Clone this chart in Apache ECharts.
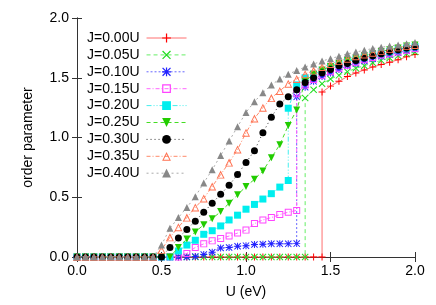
<!DOCTYPE html>
<html>
<head>
<meta charset="utf-8">
<script src="https://cdn.jsdelivr.net/npm/echarts@6/dist/echarts.min.js"></script>
<style>html,body{margin:0;padding:0;background:#fff}#c{width:436px;height:305px}</style>
</head>
<body>
<div id="c"></div>
<script>
// U grid (eV)
const uGrid = [0,0.05,0.1,0.15,0.2,0.25,0.3,0.35,0.4,0.45,0.5,0.55,0.6,0.65,0.7,0.75,0.8,0.85,0.9,0.95,1.0,1.05,1.1,1.15,1.2,1.25,1.3,1.35,1.4,1.45,1.5,1.55,1.6,1.65,1.7,1.75,1.8,1.85,1.9,1.95,2.0];
const xTicks = [0,0.5,1.0,1.5,2.0];
const yTicks = [0,0.5,1.0,1.5,2.0];
const names = ['J=0.00U','J=0.05U','J=0.10U','J=0.15U','J=0.20U','J=0.25U','J=0.30U','J=0.35U','J=0.40U'];

// lower branch: values from U=0 ; upper branch starts at the U of the last lower point
const j000_lower = [0,0,0,0,0,0,0,0,0,0,0,0,0,0,0,0,0,0,0,0,0,0,0,0,0,0,0,0,0,0];
const j000_upper = [1.38,1.43,1.47,1.51,1.54,1.565,1.59,1.61,1.63,1.65,1.675,1.695];
const j005_lower = [0,0,0,0,0,0,0,0,0,0,0,0,0,0,0,0,0,0,0,0,0,0,0,0,0,0,0,0];
const j005_upper = [1.33,1.40,1.45,1.49,1.52,1.55,1.58,1.60,1.625,1.645,1.665,1.685,1.70,1.715];
const j010_lower = [0,0,0,0,0,0,0,0,0,0,0,0,0,0,0.005,0.02,0.04,0.075,0.08,0.09,0.095,0.105,0.107,0.11,0.11,0.11,0.112];
const j010_upper = [1.34,1.42,1.47,1.51,1.54,1.57,1.60,1.62,1.64,1.66,1.68,1.695,1.71,1.725,1.74];
const j015_lower = [0,0,0,0,0,0,0,0,0,0,0,0,0,0.03,0.08,0.11,0.135,0.155,0.175,0.20,0.225,0.28,0.31,0.33,0.355,0.375,0.39];
const j015_upper = [1.37,1.44,1.485,1.52,1.55,1.58,1.605,1.63,1.65,1.67,1.69,1.70,1.715,1.73,1.745];
const j020_lower = [0,0,0,0,0,0,0,0,0,0,0,0,0.05,0.10,0.14,0.19,0.22,0.26,0.31,0.35,0.40,0.44,0.485,0.53,0.585,0.64];
const j020_upper = [1.245,1.44,1.50,1.53,1.56,1.59,1.61,1.635,1.655,1.67,1.69,1.705,1.72,1.735,1.75,1.76];
const j025 = [0,0,0,0,0,0,0,0,0,0,0,0,0.08,0.15,0.21,0.27,0.32,0.38,0.45,0.52,0.59,0.65,0.72,0.83,0.94,1.10,1.23,1.47,1.53,1.565,1.595,1.62,1.645,1.665,1.685,1.70,1.72,1.735,1.75,1.765,1.775];
const j030 = [0,0,0,0,0,0,0,0,0,0,0,0.08,0.16,0.23,0.30,0.375,0.45,0.525,0.60,0.69,0.79,0.89,1.04,1.17,1.28,1.34,1.40,1.46,1.50,1.54,1.57,1.60,1.62,1.645,1.665,1.685,1.70,1.72,1.735,1.75,1.76];
const j035 = [0,0,0,0,0,0,0,0,0,0,0.06,0.165,0.25,0.33,0.415,0.49,0.59,0.69,0.79,0.90,1.04,1.16,1.25,1.33,1.39,1.45,1.49,1.53,1.56,1.59,1.615,1.64,1.66,1.68,1.695,1.71,1.725,1.74,1.755,1.765,1.775];
const j040 = [0,0,0,0,0,0,0,0,0,0,0.10,0.24,0.33,0.415,0.505,0.62,0.73,0.85,0.97,1.09,1.21,1.30,1.375,1.44,1.49,1.53,1.56,1.59,1.615,1.64,1.66,1.68,1.70,1.715,1.73,1.745,1.755,1.765,1.775,1.785,1.795];

function build(lower, upper) {
  const d = lower.map((v, i) => [uGrid[i], v]);
  if (upper) {
    const s = lower.length - 1;
    upper.forEach((v, i) => d.push([uGrid[s + i], v]));
  }
  return d;
}
const seriesData = [
  build(j000_lower, j000_upper), build(j005_lower, j005_upper), build(j010_lower, j010_upper),
  build(j015_lower, j015_upper), build(j020_lower, j020_upper), build(j025), build(j030), build(j035), build(j040)
];

const PLUS = 'path://M4.3 0H5.7V10H4.3Z M0 4.3H10V5.7H0Z';
const CROSS = 'path://M0 1L1 0L10 9L9 10Z M9 0L10 1L1 10L0 9Z';
const STAR = 'path://M4.3 0H5.7V10H4.3Z M0 4.3H10V5.7H0Z M0 1L1 0L10 9L9 10Z M9 0L10 1L1 10L0 9Z';
const OSQ = 'path://M0 0H10V10H0Z M1.4 1.4V8.6H8.6V1.4Z';
const DTRI = 'path://M0 0L10 0L5 9Z';
const OTRI = 'path://M5 0L10 9L0 9Z M5 2.4L1.8 8L8.2 8Z';

const styles = [
  {c:'#ff0000', lc:'#ff7070', sym:PLUS, size:7, dash:'solid'},
  {c:'#22dd22', lc:'#66ee66', sym:CROSS, size:7, dash:[4,3]},
  {c:'#2222ff', lc:'#6666ff', sym:STAR, size:7, dash:[2,2]},
  {c:'#ff44ff', lc:'#ff66ff', sym:OSQ, size:7, dash:[4,2,1,2]},
  {c:'#00eeee', lc:'#44eeee', sym:'rect', size:7, dash:[5,2,1,2,1,2]},
  {c:'#22cc00', lc:'#44dd22', sym:DTRI, size:7, dash:[4,3]},
  {c:'#000000', lc:'#333333', sym:'circle', size:7, dash:[1,3]},
  {c:'#ff7050', lc:'#ff8a6a', sym:OTRI, size:8, dash:[4,2,1,2]},
  {c:'#888888', lc:'#aaaaaa', sym:'triangle', size:7, dash:[2,3]}
];

const FONT = 'Liberation Sans';
const series = names.map((n, k) => ({
  name: n, type: 'line', data: seriesData[k],
  symbol: styles[k].sym, symbolSize: styles[k].size,
  showAllSymbol: true,
  lineStyle: {color: styles[k].lc, width: 1, type: styles[k].dash},
  itemStyle: {color: styles[k].c},
  emphasis: {disabled: true},
  z: 2 + k
}));

const chart = echarts.init(document.getElementById('c'), null, {renderer: 'canvas'});
chart.setOption({
  animation: false,
  backgroundColor: '#fff',
  grid: {left: 77, right: 21, top: 18, bottom: 48, containLabel: false},
  legend: {
    orient: 'vertical', left: 87, top: 31, align: 'right', padding: 0,
    itemWidth: 40, itemHeight: 11, itemGap: 2.9,
    lineStyle: {width: 1},
    textStyle: {fontFamily: FONT, fontSize: 14, lineHeight: 11, color: '#000', padding: [0, 2, 0, 0]},
    data: names
  },
  xAxis: [
    {type: 'value', min: 0, max: 2, interval: 0.5, name: 'U (eV)', nameLocation: 'middle', nameGap: 28,
     nameTextStyle: {fontFamily: FONT, fontSize: 14, color: '#000'},
     axisLine: {show: true, lineStyle: {color: '#333', width: 1}},
     axisTick: {show: true, inside: true, length: 5, lineStyle: {color: '#333'}},
     axisLabel: {fontFamily: FONT, fontSize: 14, color: '#000', margin: 7, formatter: v => xTicks.includes(v) ? v.toFixed(1) : ''},
     splitLine: {show: false}},
    {type: 'value', position: 'top', min: 0, max: 2, interval: 0.5,
     axisLine: {show: true, lineStyle: {color: '#333', width: 1}},
     axisTick: {show: true, inside: true, length: 5, lineStyle: {color: '#333'}},
     axisLabel: {show: false}, splitLine: {show: false}}
  ],
  yAxis: [
    {type: 'value', min: 0, max: 2, interval: 0.5, name: 'order parameter', nameLocation: 'middle', nameGap: 42,
     nameTextStyle: {fontFamily: FONT, fontSize: 14, color: '#000'},
     axisLine: {show: true, lineStyle: {color: '#333', width: 1}},
     axisTick: {show: true, inside: true, length: 5, lineStyle: {color: '#333'}},
     axisLabel: {fontFamily: FONT, fontSize: 14, color: '#000', margin: 8, formatter: v => yTicks.includes(v) ? v.toFixed(1) : ''},
     splitLine: {show: false}},
    {type: 'value', position: 'right', min: 0, max: 2, interval: 0.5,
     axisLine: {show: true, lineStyle: {color: '#333', width: 1}},
     axisTick: {show: true, inside: true, length: 5, lineStyle: {color: '#333'}},
     axisLabel: {show: false}, splitLine: {show: false}}
  ],
  series: series
});
</script>
</body>
</html>
